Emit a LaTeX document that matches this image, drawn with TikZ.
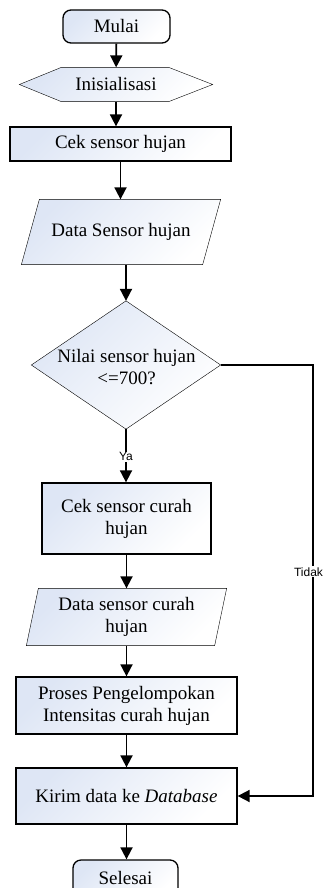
\documentclass[tikz,border=0pt]{standalone}
\usepackage{fontspec}
\setmainfont{Liberation Serif}
\newfontfamily\lblfont{Liberation Sans}
\usetikzlibrary{arrows.meta}
\definecolor{fb}{RGB}{222,230,245}
\pgfdeclarelayer{bg}
\pgfsetlayers{bg,main}
\begin{document}
\begin{tikzpicture}[x=1pt,y=-1pt,
 line width=1.3pt,
 sh/.style={top color=fb, bottom color=white, shading angle=45},
 proc/.style={draw, sh, rectangle, inner sep=0pt, align=center, font=\fontsize{19}{22}\selectfont},
 term/.style={proc, rounded corners=8pt},
 ghost/.style={inner sep=0pt, align=center, font=\fontsize{19}{22}\selectfont},
 arr/.style={line width=1.8pt, -{Triangle[length=12pt,width=12pt]}},
 lbl/.style={fill=white, inner sep=1pt, font=\lblfont\fontsize{12}{14}\selectfont}
]
\clip (0,0) rectangle (330,888);

\node[term, minimum width=107, minimum height=33] (mulai) at (116.5,26.5) {Mulai};
\node[ghost, minimum width=192, minimum height=33] (init) at (116,84.5) {Inisialisasi};
\node[proc, minimum width=221, minimum height=34] (cek) at (120.5,144) {Cek sensor hujan};
\node[ghost, minimum width=198, minimum height=64] (d1) at (121,232) {Data Sensor hujan};
\node[ghost, minimum width=188, minimum height=127] (dec) at (126,365) {};
\node[ghost] (dectext) at (126.5,367) {Nilai sensor hujan\\\textless=700?};
\node[proc, minimum width=169, minimum height=71] (cek2) at (126.5,518.5) {Cek sensor curah\\hujan};
\node[ghost, minimum width=199, minimum height=56] (d2) at (126.5,617) {Data sensor curah\\hujan};
\node[proc, minimum width=221, minimum height=57] (proses) at (126.5,705.5) {Proses Pengelompokan\\Intensitas curah hujan};
\node[proc, minimum width=221, minimum height=56] (kirim) at (126.5,796) {Kirim data ke \textit{Database}};
\node[term, minimum width=105, minimum height=36] (selesai) at (125.5,878) {Selesai};

\begin{pgfonlayer}{bg}
\path[draw, sh] (init.west) -- ([xshift=42pt]init.north west) -- ([xshift=-44pt]init.north east)
  -- (init.east) -- ([xshift=-44pt]init.south east) -- ([xshift=42pt]init.south west) -- cycle;
\path[draw, sh] (d1.south west) -- ([xshift=18pt]d1.north west) -- (d1.north east)
  -- ([xshift=-18pt]d1.south east) -- cycle;
\path[draw, sh] (dec.north) -- (dec.east) -- (dec.south) -- (dec.west) -- cycle;
\path[draw, sh] (d2.south west) -- ([xshift=12pt]d2.north west) -- (d2.north east)
  -- ([xshift=-12pt]d2.south east) -- cycle;
\end{pgfonlayer}

\coordinate (tk) at (313,365);

\draw[arr] (mulai) -- (init);
\draw[arr] (init.south) -- (init.south |- cek.north);
\draw[arr] (cek.south) -- (cek.south |- d1.north);
\draw[arr] (dec.north |- d1.south) -- (dec.north);
\draw[arr] (dec.south) -- node[lbl, pos=0.52] {Ya} (dec.south |- cek2.north);
\draw[arr] (cek2.south) -- (cek2.south |- d2.north);
\draw[arr] (cek2.south |- d2.south) -- (cek2.south |- proses.north);
\draw[arr] (proses.south) -- (proses.south |- kirim.north);
\draw[arr] (kirim.south) -- (kirim.south |- selesai.north);
\draw[arr] (dec.east) -- (tk) |- node[lbl, pos=0.24, xshift=-4.5pt] {Tidak} (kirim.east);
\end{tikzpicture}
\end{document}
